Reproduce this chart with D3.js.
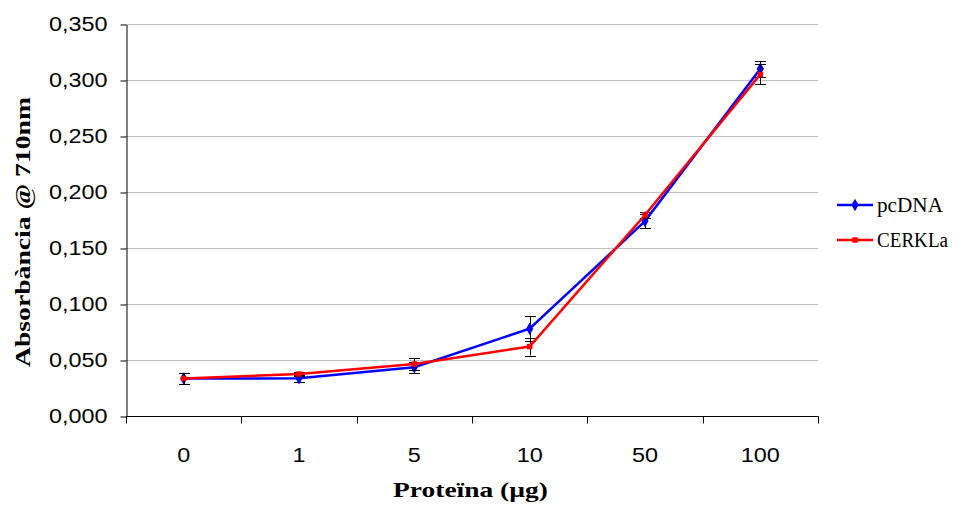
<!DOCTYPE html>
<html>
<head>
<meta charset="utf-8">
<script src="https://d3js.org/d3.v7.min.js"></script>
<style>
  body { margin: 0; background: #fff; }
  svg { display: block; }
</style>
</head>
<body>
<svg id="vis"></svg>
<script>
// data
var categories = ["0", "1", "5", "10", "50", "100"];
var pcdnaValues = [0.0335, 0.0336, 0.0435, 0.078, 0.174, 0.310];
var pcdnaErrors = [0.005, 0.003, 0.005, 0.011, 0.0065, 0.007];
var cerklaValues = [0.0335, 0.0375, 0.0464, 0.062, 0.1795, 0.305];
var cerklaErrors = [0.005, 0.0017, 0.005, 0.008, 0.003, 0.009];
var yTicks = [0, 0.05, 0.1, 0.15, 0.2, 0.25, 0.3, 0.35];

var series = [
  { name: "pcDNA", values: pcdnaValues, errors: pcdnaErrors, color: "#0000ff", marker: "diamond" },
  { name: "CERKLa", values: cerklaValues, errors: cerklaErrors, color: "#ff0000", marker: "square" }
];

var width = 960, height = 507;
var plotLeft = 126, plotRight = 818, plotTop = 24, plotBottom = 416;
var sans = "'Liberation Sans', Arial, sans-serif";
var serif = "'Liberation Serif', 'Times New Roman', serif";

var svg = d3.select("#vis")
  .attr("width", width)
  .attr("height", height);

// scales
var x = d3.scaleBand()
  .domain(categories)
  .range([plotLeft, plotRight]);

var y = d3.scaleLinear()
  .domain([0, 0.35])
  .range([plotBottom, plotTop]);

var fmt = function(d) { return d3.format(".3f")(d).replace(".", ","); };

// gridlines
svg.append("g")
  .selectAll("line")
  .data(yTicks.filter(function(d) { return d > 0; }))
  .join("line")
  .attr("x1", plotLeft)
  .attr("x2", plotRight)
  .attr("y1", function(d) { return Math.round(y(d)) + 0.5; })
  .attr("y2", function(d) { return Math.round(y(d)) + 0.5; })
  .attr("stroke", "#c0c0c0")
  .attr("stroke-width", 1);

// y axis
var yAxis = svg.append("g")
  .attr("transform", "translate(" + (plotLeft + 0.5) + ",0.5)")
  .call(d3.axisLeft(y).tickValues(yTicks).tickFormat(fmt).tickSize(6).tickSizeOuter(0));
yAxis.select(".domain").attr("stroke", "#000");
yAxis.selectAll(".tick line").attr("stroke", "#000");
// labels stretched a little sideways, as in the picture
yAxis.selectAll(".tick text")
  .attr("x", null)
  .attr("dy", null)
  .attr("transform", "translate(-19,6) scale(1.2,1)")
  .style("font-family", sans)
  .style("font-size", "19.5px")
  .attr("fill", "#000");

// x axis, ticks on category boundaries
var xAxis = svg.append("g")
  .attr("transform", "translate(0," + (plotBottom + 0.5) + ")");
xAxis.append("line")
  .attr("x1", plotLeft)
  .attr("x2", plotRight + 0.5)
  .attr("stroke", "#000");
xAxis.selectAll("line.tick")
  .data(categories.concat(["end"]))
  .join("line")
  .attr("class", "tick")
  .attr("x1", function(d, i) { return Math.round(plotLeft + i * x.step()) + 0.5; })
  .attr("x2", function(d, i) { return Math.round(plotLeft + i * x.step()) + 0.5; })
  .attr("y1", 0)
  .attr("y2", 7)
  .attr("stroke", "#000");
xAxis.selectAll("text")
  .data(categories)
  .join("text")
  .attr("transform", function(d) {
    return "translate(" + (x(d) + x.bandwidth() / 2) + ",45) scale(1.2,1)";
  })
  .attr("text-anchor", "middle")
  .style("font-family", sans)
  .style("font-size", "19.5px")
  .text(function(d) { return d; });

// axis titles
svg.append("text")
  .attr("x", 393)
  .attr("y", 497)
  .attr("textLength", 155)
  .attr("lengthAdjust", "spacingAndGlyphs")
  .style("font-family", serif)
  .style("font-weight", "bold")
  .style("font-size", "22px")
  .text("Proteïna (µg)");

svg.append("text")
  .attr("transform", "translate(30,367) rotate(-90)")
  .attr("textLength", 270)
  .attr("lengthAdjust", "spacingAndGlyphs")
  .style("font-family", serif)
  .style("font-weight", "bold")
  .style("font-size", "21px")
  .text("Absorbància @ 710nm");

var cx = function(i) { return x(categories[i]) + x.bandwidth() / 2; };

var line = d3.line()
  .x(function(d, i) { return cx(i); })
  .y(function(d) { return y(d); });

var diamond = d3.symbol().type(d3.symbolDiamond).size(45);
var square = d3.symbol().type(d3.symbolSquare).size(30);

series.forEach(function(s) {
  var g = svg.append("g");

  // error bars
  var eb = g.selectAll("g.err")
    .data(s.values)
    .join("g")
    .attr("class", "err");
  eb.append("line")
    .attr("x1", function(d, i) { return Math.round(cx(i)) + 0.5; })
    .attr("x2", function(d, i) { return Math.round(cx(i)) + 0.5; })
    .attr("y1", function(d, i) { return y(d + s.errors[i]); })
    .attr("y2", function(d, i) { return y(d - s.errors[i]); })
    .attr("stroke", "#000");
  [1, -1].forEach(function(sign) {
    eb.append("line")
      .attr("x1", function(d, i) { return Math.round(cx(i)) - 5; })
      .attr("x2", function(d, i) { return Math.round(cx(i)) + 6; })
      .attr("y1", function(d, i) { return Math.round(y(d + sign * s.errors[i])) + 0.5; })
      .attr("y2", function(d, i) { return Math.round(y(d + sign * s.errors[i])) + 0.5; })
      .attr("stroke", "#000");
  });

  g.append("path")
    .datum(s.values)
    .attr("d", line)
    .attr("fill", "none")
    .attr("stroke", s.color)
    .attr("stroke-width", 2.5);

  g.selectAll("path.mark")
    .data(s.values)
    .join("path")
    .attr("class", "mark")
    .attr("transform", function(d, i) { return "translate(" + cx(i) + "," + y(d) + ")"; })
    .attr("d", s.marker === "diamond" ? diamond : square)
    .attr("fill", s.color);
});

// legend
var legend = svg.append("g")
  .attr("transform", "translate(837,205)");
series.forEach(function(s, i) {
  var row = legend.append("g").attr("transform", "translate(0," + (i * 35) + ")");
  row.append("line")
    .attr("x1", 0)
    .attr("x2", 36)
    .attr("stroke", s.color)
    .attr("stroke-width", 2.5);
  row.append("path")
    .attr("transform", "translate(18,0)")
    .attr("d", s.marker === "diamond" ? diamond : square)
    .attr("fill", s.color);
  row.append("text")
    .attr("x", 40)
    .attr("y", 7)
    .attr("textLength", i === 0 ? 66 : 71)
    .attr("lengthAdjust", "spacingAndGlyphs")
    .style("font-family", serif)
    .style("font-size", "20px")
    .text(s.name);
});
</script>
</body>
</html>
